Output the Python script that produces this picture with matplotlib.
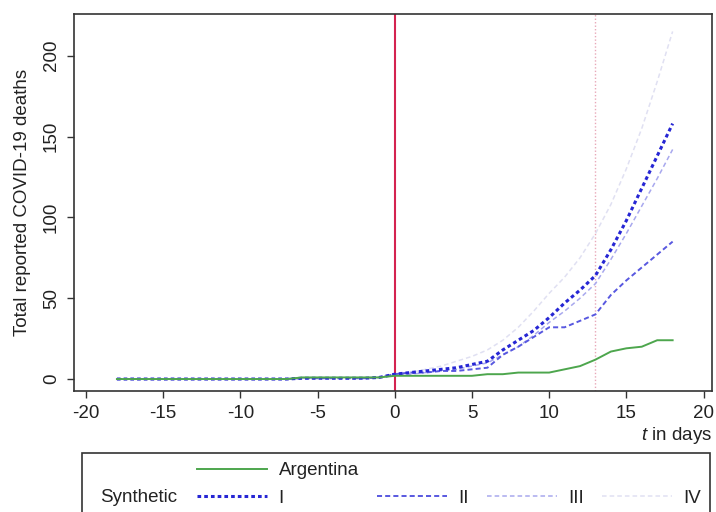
import matplotlib
matplotlib.use("Agg")
import matplotlib.pyplot as plt
from matplotlib.lines import Line2D
from matplotlib.patches import Rectangle

plt.rcParams['font.family'] = ['Liberation Sans', 'DejaVu Sans']
plt.rcParams['mathtext.fontset'] = 'custom'
plt.rcParams['mathtext.it'] = 'Liberation Sans:italic'
plt.rcParams['mathtext.rm'] = 'Liberation Sans'

# ---------------- data ----------------
t = list(range(-18, 19))
argentina = [0, 0, 0, 0, 0, 0, 0, 0, 0, 0, 0, 0, 1, 1, 1, 1, 1, 1,
             2, 2, 2, 2, 2, 2, 3, 3, 4, 4, 4, 6, 8, 12, 17, 19, 20, 24, 24]
synth_I = [0, 0, 0, 0, 0, 0, 0, 0, 0, 0, 0, 0, 0.5, 0.5, 0.5, 0.5, 0.5, 1,
           3, 4, 5, 6, 7, 9, 11, 18, 24, 30, 38, 47, 55, 64, 80, 98, 118, 138, 158]
synth_II = [0, 0, 0, 0, 0, 0, 0, 0, 0, 0, 0, 0, 0.5, 0.5, 0.5, 0.5, 0.5, 1,
            3, 4, 4, 5, 5, 6, 7, 15, 20, 26, 32, 32, 36, 40, 52, 61, 69, 77, 85]
synth_III = [0, 0, 0, 0, 0, 0, 0, 0, 0, 0, 0, 0, 0.5, 0.5, 0.5, 0.5, 0.5, 1,
             3, 3, 4, 5, 6, 8, 10, 15, 20, 27, 35, 42, 50, 59, 74, 90, 107, 124, 142]
synth_IV = [0, 0, 0, 0, 0, 0, 0, 0, 0, 0, 0, 0, 0.5, 0.5, 0.5, 0.5, 0.5, 1,
            3, 4, 6, 8, 11, 14, 18, 24, 32, 42, 53, 63, 75, 90, 108, 130, 155, 184, 215]
treatment_day = 0
marker_day = 13
xticks = [-20, -15, -10, -5, 0, 5, 10, 15, 20]
yticks = [0, 50, 100, 150, 200]
synth_labels = ['I', 'II', 'III', 'IV']

# ---------------- styles ----------------
c_arg = '#4da64d'
synth_styles = [
    dict(color='#2626d4', lw=2.2, dashes=(1.2, 1.0)),
    dict(color='#5858e0', lw=1.4, dashes=(2.6, 1.6)),
    dict(color='#a8a8ee', lw=1.1, dashes=(3.0, 2.0)),
    dict(color='#e0e0f2', lw=1.1, dashes=(3.0, 2.0)),
]
FS = 13.5

W, H = 716, 512
fig = plt.figure(figsize=(W / 100, H / 100), dpi=100)
ax = fig.add_axes([74 / W, 1 - 391 / H, (712 - 74) / W, (391 - 14) / H])

ax.axvline(treatment_day, color='#d42350', lw=1.5, zorder=2)
ax.axvline(marker_day, color='#e8a8b8', lw=1.0, ls=(0, (1, 1.5)), zorder=2)

series = [synth_IV, synth_III, synth_II, synth_I]
styles = synth_styles[::-1]
for s, st in zip(series, styles):
    ax.plot(t, s, color=st['color'], lw=st['lw'], dashes=st['dashes'],
            zorder=3)
ax.plot(t, argentina, color=c_arg, lw=1.4, zorder=4)

ax.set_xlim(-20.78, 20.55)
ax.set_ylim(-7.4, 225.8)
ax.set_xticks(xticks)
ax.set_yticks(yticks)
ax.set_xticklabels([str(v) for v in xticks], fontsize=FS)
ax.set_yticklabels([str(v) for v in yticks], fontsize=FS, rotation=90,
                   va='center')
ax.tick_params(axis='both', direction='out', length=5, width=1.0,
               color='#333333', labelcolor='#222222', pad=5)
for sp in ax.spines.values():
    sp.set_color('#333333')
    sp.set_linewidth(1.2)

ax.set_ylabel('Total reported COVID-19 deaths', fontsize=FS, color='#222222',
              labelpad=9)
ax.set_xlabel('$t$ in days', fontsize=FS, color='#222222')
ax.xaxis.set_label_coords(1.0, -0.09)
ax.xaxis.label.set_ha('right')

# ---------------- legend ----------------
blank = Line2D([], [], lw=0)
h_arg = Line2D([], [], color=c_arg, lw=1.4)
h_syn = [Line2D([], [], color=st['color'], lw=st['lw'], dashes=st['dashes'])
         for st in synth_styles]
handles = [h_arg, h_syn[0], blank, h_syn[1], blank, h_syn[2], blank, h_syn[3]]
labels = ['Argentina', synth_labels[0], '', synth_labels[1], '',
          synth_labels[2], '', synth_labels[3]]
leg = fig.legend(handles, labels, ncol=4, loc='upper left',
                 bbox_to_anchor=(197 / W, 1 - 462 / H), frameon=False,
                 fontsize=FS, borderpad=0, borderaxespad=0,
                 handlelength=3.75, handletextpad=0.6, columnspacing=0.95,
                 labelspacing=0.55)
for txt in leg.get_texts():
    txt.set_color('#222222')
fig.text(100 / W, 1 - 498 / H, 'Synthetic', fontsize=FS, color='#222222',
         va='center', ha='left')
fig.patches.append(Rectangle((82 / W, -0.05), (710 - 82) / W,
                             (1 - 453 / H) + 0.05, transform=fig.transFigure,
                             fill=False, edgecolor='#333333', lw=1.2))

fig.savefig('out.png', dpi=100)
